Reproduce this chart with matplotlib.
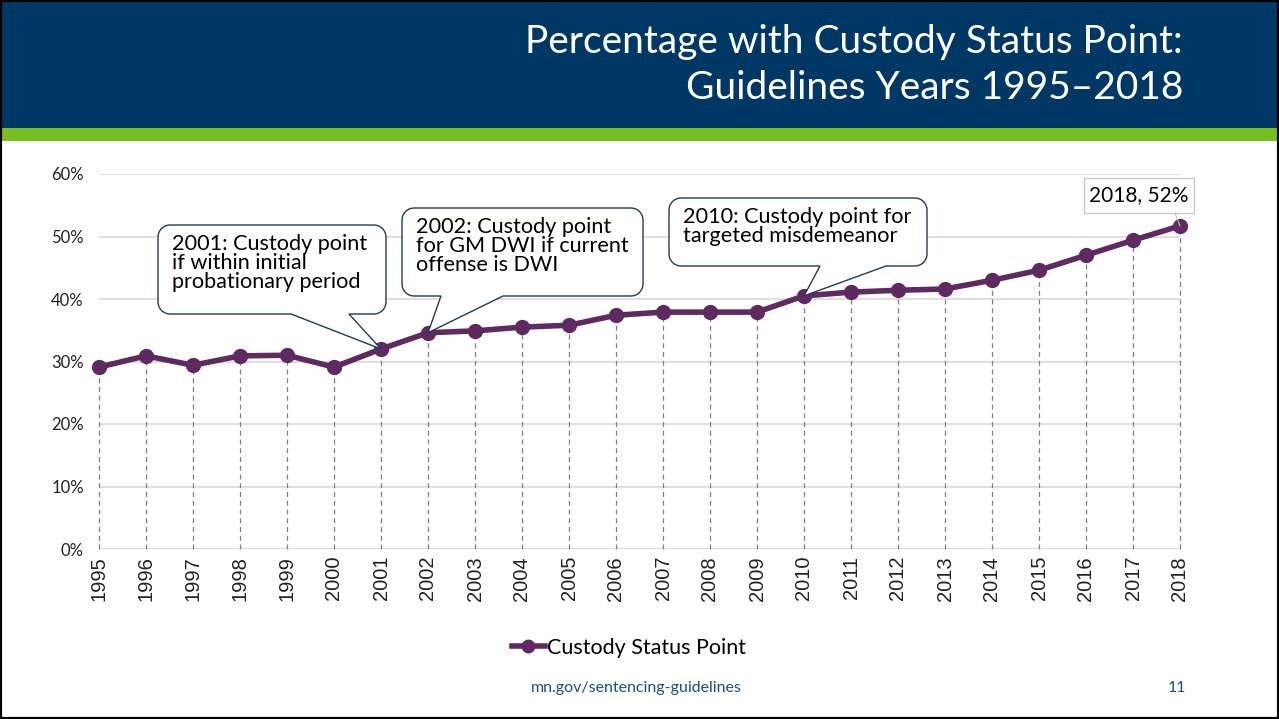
import matplotlib
matplotlib.use("Agg")
import matplotlib.pyplot as plt
from matplotlib.patches import Rectangle, Polygon
from matplotlib.lines import Line2D
import numpy as np

# ---------------- data ----------------
years = list(range(1995, 2019))
values = [29.1, 30.9, 29.4, 30.9, 31.0, 29.1, 32.0, 34.6, 34.9, 35.5, 35.8, 37.4,
          37.9, 37.9, 37.9, 40.5, 41.1, 41.4, 41.6, 43.0, 44.6, 47.0, 49.4, 51.7]
y_ticks = [0, 10, 20, 30, 40, 50, 60]
y_tick_labels = [f"{v}%" for v in y_ticks]
series_name = "Custody Status Point"
title_lines = ["Percentage with Custody Status Point:", "Guidelines Years 1995\u20132018"]
callout_texts = {
    2001: "2001: Custody point\nif within initial\nprobationary period",
    2002: "2002: Custody point\nfor GM DWI if current\noffense is DWI",
    2010: "2010: Custody point for\ntargeted misdemeanor",
}
last_label = f"{years[-1]}, {round(values[-1])}%"
footer = "mn.gov/sentencing-guidelines"
page_no = "11"

# ---------------- style ----------------
W, H = 1279, 719
NAVY = "#003865"
GREEN = "#78be20"
PURPLE = "#5e2a60"
TEXT = "#222222"
CALLOUT_EDGE = "#1f3b57"
FONT = "Lato"

fig = plt.figure(figsize=(W / 100, H / 100), dpi=100)

def fx(px):
    return px / W

def fy(py):
    return 1 - py / H

# header band
fig.add_artist(Rectangle((0, fy(128)), 1, 1 - fy(128), transform=fig.transFigure,
                         facecolor=NAVY, edgecolor="none", zorder=0))
fig.add_artist(Rectangle((0, fy(141)), 1, fy(128) - fy(141), transform=fig.transFigure,
                         facecolor=GREEN, edgecolor="none", zorder=0))
fig.text(fx(1183), fy(42), title_lines[0], ha="right", va="center", color="white",
         fontsize=28, family=FONT)
fig.text(fx(1183), fy(88), title_lines[1], ha="right", va="center", color="white",
         fontsize=28, family=FONT)

# axes
ax = fig.add_axes([fx(99), fy(549), fx(1180) - fx(99), fy(174) - fy(549)])
ax.set_xlim(years[0], years[-1])
ax.set_ylim(y_ticks[0], y_ticks[-1])
for s in ax.spines.values():
    s.set_visible(False)
ax.set_yticks(y_ticks)
ax.set_yticklabels(y_tick_labels, family=FONT, fontsize=12, color=TEXT)
ax.set_xticks(years)
ax.set_xticklabels([str(y) for y in years], rotation=90, family="Liberation Sans",
                   fontsize=14.5, color=TEXT)
ax.tick_params(axis="y", length=0, pad=11)
ax.tick_params(axis="x", length=0, pad=5)
for t in y_ticks:
    ax.axhline(t, color="#d9d9d9", lw=1.2, zorder=1)

# drop lines
ax.vlines(years, 0, values, colors="#7f7f7f", linestyles=(0, (4, 3)), lw=0.9,
          zorder=2, clip_on=False)

# series
ax.plot(years, values, color=PURPLE, lw=4, marker="o", markersize=10, zorder=3,
        solid_capstyle="round", clip_on=False)

# callouts
px_per_year = (1180 - 99) / (years[-1] - years[0])
px_per_pct = (549 - 174) / (y_ticks[-1] - y_ticks[0])

def px2x(px):
    return years[0] + (px - 99) / px_per_year

def py2y(py):
    return (549 - py) / px_per_pct

def callout(year, box, base, text):
    x0, x1, ytop, ybot = px2x(box[0]), px2x(box[1]), py2y(box[2]), py2y(box[3])
    b0, b1 = px2x(base[0]), px2x(base[1])
    tipx, tipy = year, values[years.index(year)]
    rx, ry = 12 / px_per_year, 12 / px_per_pct
    verts = []
    def arc(cx, cy, a0, a1):
        for a in np.linspace(a0, a1, 8):
            verts.append((cx + rx * np.cos(a), cy + ry * np.sin(a)))
    arc(x0 + rx, ybot + ry, np.pi, 1.5 * np.pi)
    verts += [(b0, ybot), (tipx, tipy), (b1, ybot)]
    arc(x1 - rx, ybot + ry, 1.5 * np.pi, 2 * np.pi)
    arc(x1 - rx, ytop - ry, 0, 0.5 * np.pi)
    arc(x0 + rx, ytop - ry, 0.5 * np.pi, np.pi)
    poly = Polygon(verts, closed=True, facecolor="white", edgecolor=CALLOUT_EDGE,
                   lw=1.0, zorder=5, clip_on=False, joinstyle="miter")
    ax.add_patch(poly)
    ax.text(x0 + 14 / px_per_year, ytop - 9 / px_per_pct, text, ha="left", va="top",
            family=FONT, fontsize=15.6, color="black", linespacing=0.93, zorder=6)

callout(2001, (158, 386, 225, 314), (291, 349), callout_texts[2001])
callout(2002, (402, 643, 208, 296), (441, 503), callout_texts[2002])
callout(2010, (669, 927, 198, 266), (820, 886), callout_texts[2010])

# last point label
lx0, lx1, lyt, lyb = px2x(1084), px2x(1194), py2y(178), py2y(213)
ax.add_patch(Rectangle((lx0, lyb), lx1 - lx0, lyt - lyb, facecolor="white",
                       edgecolor="#c8c8c8", lw=1, zorder=5, clip_on=False))
ax.plot([px2x(1175), years[-1]], [lyb, values[-1]], color="#bfbfbf", lw=0.8,
        zorder=4, clip_on=False)
ax.text((lx0 + lx1) / 2, (lyt + lyb) / 2, last_label, ha="center", va="center",
        family=FONT, fontsize=15, color="black", zorder=6)

# legend
handle = Line2D([], [], color=PURPLE, lw=4, marker="o", markersize=9)
fig.legend([handle], [series_name], loc="center", bbox_to_anchor=(fx(629), fy(648)),
           frameon=False, handlelength=1.5, handletextpad=0.1,
           prop={"family": FONT, "size": 15.5})

# footer
fig.text(fx(636), fy(688), footer, ha="center", va="center", color="#1f4e79",
         fontsize=11.5, family=FONT)
fig.text(fx(1177), fy(688), page_no, ha="center", va="center", color="#1f4e79",
         fontsize=11.5, family=FONT)

# slide border
fig.add_artist(Rectangle((0, 0), 1, 1, transform=fig.transFigure, facecolor="none",
                         edgecolor="black", lw=3, zorder=10))

fig.savefig("out.png", dpi=100)
